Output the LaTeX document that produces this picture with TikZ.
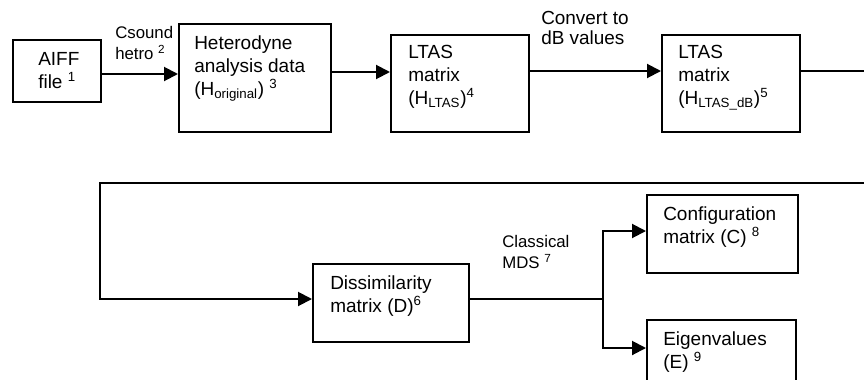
\documentclass[tikz,border=0pt]{standalone}
\usepackage{fontspec}
\setmainfont{Liberation Sans}
\usetikzlibrary{arrows.meta}

\newcommand{\boxfont}{\fontsize{14.25}{17.25}\selectfont}
\newcommand{\notefont}{\fontsize{12.6}{15.75}\selectfont}
\newcommand{\convfont}{\fontsize{14.2}{15}\selectfont}

\begin{document}
\begin{tikzpicture}[x=0.75pt,y=-0.75pt,
  blk/.style 2 args={draw,line width=1.5pt,anchor=north west,inner sep=0pt,
    minimum width=#1*0.75pt,minimum height=#2*0.75pt},
  txt/.style={anchor=north west,inner sep=0pt,align=left,font=\boxfont},
  note/.style={anchor=north west,inner sep=0pt,align=left,font=\notefont},
  ln/.style={line width=1.5pt},
  arr/.style={ln,-{Triangle[length=10.5pt,width=10.5pt]}}]
\useasboundingbox (0,0) rectangle (864,379);

% top row
\node[blk={88}{62}] (aiff) at (12,39) {};
\node[txt] (aiffT) at (38,52) {AIFF\\file \textsuperscript{1}};
\node[blk={152}{108}] (het) at (178,23) {};
\node[txt] (hetT) at (194,35) {Heterodyne\\analysis data\\(H\textsubscript{original}) \textsuperscript{3}};
\node[blk={138}{97}] (ltas) at (390,34) {};
\node[txt] (ltasT) at (408,45) {LTAS\\matrix\\(H\textsubscript{LTAS})\textsuperscript{4}};
\node[blk={138}{97}] (ltasdb) at (661,34) {};
\node[txt] (ltasdbT) at (678,45) {LTAS\\matrix\\(H\textsubscript{LTAS\_dB})\textsuperscript{5}};

% bottom row
\node[blk={156}{78}] (dis) at (312,263) {};
\node[txt] (disT) at (330,275) {Dissimilarity\\matrix (D)\textsuperscript{6}};
\node[blk={151}{78}] (conf) at (646,194) {};
\node[txt] (confT) at (663,206) {Configuration\\matrix (C) \textsuperscript{8}};
\node[blk={149}{101}] (eig) at (646,319) {};
\node[txt] (eigT) at (663,331) {Eigenvalues\\(E) \textsuperscript{9}};

% labels
\node[note] (hetro) at (115,26) {Csound\\hetro \textsuperscript{2}};
\node[note,font=\convfont] (conv) at (541,11) {Convert to\\dB values};
\node[note] (mds) at (502,235) {Classical\\MDS \textsuperscript{7}};

\coordinate (edge) at (880,183);
\coordinate (turn) at (100,183);
\coordinate (fork) at (603,299);

\path (aiff.east |- 0,74) edge[arr] (het.west |- 0,74);
\path (het.east |- 0,72) edge[arr] (ltas.west |- 0,72);
\path (ltas.east |- 0,71) edge[arr] (ltasdb.west |- 0,71);
\draw[arr] (ltasdb.east |- 0,71) -| (edge) -- (turn) |- (dis.west |- 0,299);
\draw[ln] (dis.east |- 0,299) -- (fork);
\draw[arr] (fork) |- (conf.west |- 0,231);
\draw[arr] (fork) |- (eig.west |- 0,348);

\end{tikzpicture}
\end{document}
